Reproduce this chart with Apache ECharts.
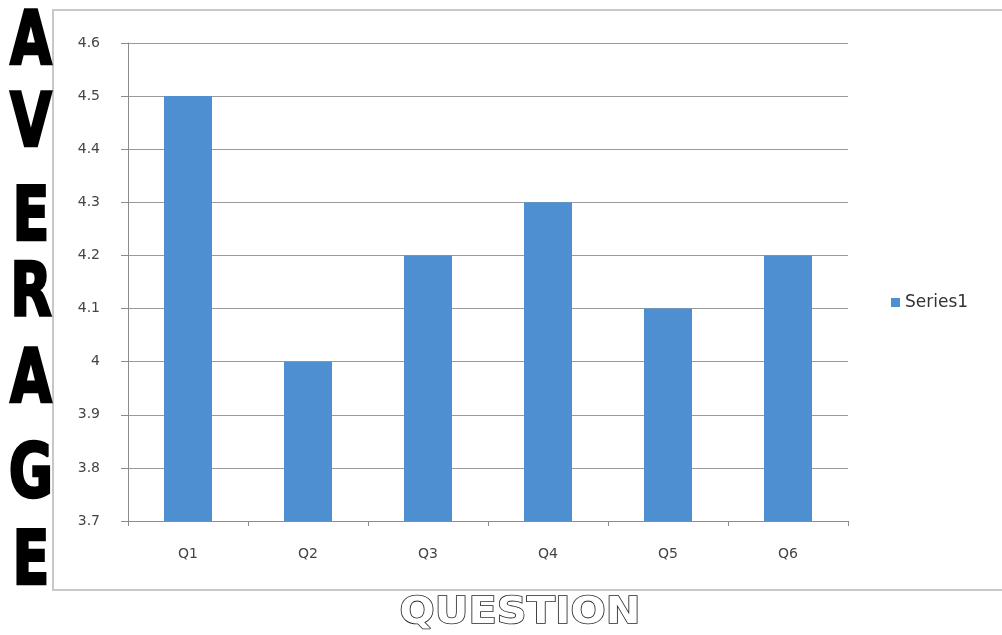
<!DOCTYPE html>
<html>
<head>
<meta charset="utf-8">
<script src="https://cdn.jsdelivr.net/npm/echarts@6/dist/echarts.min.js"></script>
<style>html,body{margin:0;padding:0;background:#fff;}#c{width:1002px;height:635px;}</style>
</head>
<body>
<div id="c"></div>
<script>
var categories = ['Q1', 'Q2', 'Q3', 'Q4', 'Q5', 'Q6'];
var series1 = [4.5, 4.0, 4.2, 4.3, 4.1, 4.2];
var seriesName = 'Series1';
var yTitleLetters = ['A', 'V', 'E', 'R', 'A', 'G', 'E'];
var yTitleCenters = [42, 124, 218, 294, 380, 475, 562];
var xTitle = 'QUESTION';

var chart = echarts.init(document.getElementById('c'), null, {renderer: 'canvas'});
var graphics = [{
  type: 'rect', shape: {x: 53, y: 10, width: 960, height: 580},
  style: {fill: 'none', stroke: '#c8c8c8', lineWidth: 2}, z: -1
}];
yTitleLetters.forEach(function (ch, i) {
  graphics.push({
    type: 'text', x: 31, y: yTitleCenters[i] + 3, scaleX: 1, scaleY: 1.25,
    style: {text: ch, fill: '#000', font: 'bold 60px "Liberation Sans Narrow", "DejaVu Sans Condensed", sans-serif',
      align: 'center', verticalAlign: 'middle', stroke: '#000', lineWidth: 2}
  });
});
graphics.push({
  type: 'text', x: 520, y: 613, scaleX: 1.22, scaleY: 1.12,
  style: {text: xTitle, fill: '#fff', stroke: '#222', lineWidth: 1.4,
    font: 'bold 34px "DejaVu Sans", sans-serif', align: 'center', verticalAlign: 'middle'}
});

chart.setOption({
  animation: false,
  grid: {left: 128, right: 154, top: 43, bottom: 114, containLabel: false},
  legend: {
    data: [seriesName], orient: 'vertical', left: 886, top: 289,
    itemWidth: 9, itemHeight: 9, itemGap: 4,
    icon: 'rect',
    textStyle: {color: '#333', fontSize: 17, fontFamily: 'DejaVu Sans'}
  },
  xAxis: {
    type: 'category', data: categories,
    axisLine: {lineStyle: {color: '#8c8c8c'}},
    axisTick: {show: true, length: 5, lineStyle: {color: '#8c8c8c'}},
    axisLabel: {color: '#444', fontSize: 14, margin: 26, fontFamily: 'DejaVu Sans'}
  },
  yAxis: {
    type: 'value', min: 3.7, max: 4.6, interval: 0.1,
    axisLine: {show: true, lineStyle: {color: '#8c8c8c'}},
    axisTick: {show: true, length: 7, lineStyle: {color: '#8c8c8c'}},
    splitLine: {lineStyle: {color: '#9a9a9a'}},
    axisLabel: {color: '#444', fontSize: 14, margin: 28, fontFamily: 'DejaVu Sans',
      formatter: function (v) { return String(Math.round(v * 10) / 10); }}
  },
  series: [{
    name: seriesName, type: 'bar', data: series1, barWidth: '40%',
    itemStyle: {color: '#4d8fd1'}
  }],
  graphic: graphics
});
</script>
</body>
</html>
